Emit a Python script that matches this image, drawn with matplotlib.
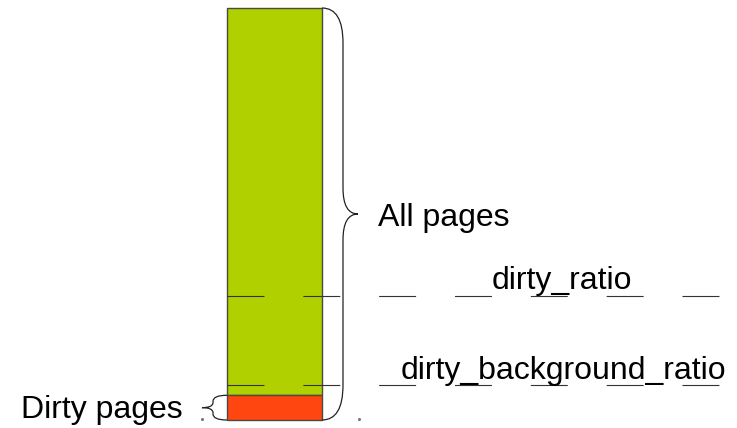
import matplotlib
matplotlib.use('Agg')
import matplotlib.pyplot as plt
from matplotlib.path import Path
from matplotlib.patches import PathPatch

plt.rcParams['font.family'] = ['Liberation Sans', 'DejaVu Sans']
plt.rcParams['lines.scale_dashes'] = False

# share of memory pages (percent of all pages)
all_pages = 100
dirty_pages = 6
dirty_ratio = 30
dirty_background_ratio = 8.5

labels = ['All pages', 'dirty_ratio', 'dirty_background_ratio', 'Dirty pages']

fig = plt.figure(figsize=(7.37, 4.28), dpi=100)
ax = fig.add_axes([0, 0, 1, 1])
ax.axis('off')

k = 4.12  # pixels per percent
ax.set_xlim(0, 737)
ax.set_ylim(-8 / k, all_pages + 8 / k)

bar_x, bar_w = 274.5, 95
left, right = bar_x - bar_w / 2, bar_x + bar_w / 2

ax.bar(bar_x, all_pages - dirty_pages, bottom=dirty_pages, width=bar_w,
       color='#b0d000', edgecolor='#4a4a40', linewidth=1.0, zorder=2)
ax.bar(bar_x, dirty_pages, bottom=0, width=bar_w,
       color='#ff4510', edgecolor='#4a4a40', linewidth=1.0, zorder=2)

# dashed threshold lines
for y in [dirty_ratio, dirty_background_ratio]:
    ax.hlines(y, left, 722, colors='#333333', linewidth=0.8,
              linestyles=(0, (26.6, 28.0)), zorder=3)


def brace(x0, xv, xtip, ytop, ybot, end, tipr):
    ymid = (ytop + ybot) / 2
    e, t = end / k, tipr / k
    verts = [(x0, ytop), (xv, ytop), (xv, ytop - e),
             (xv, ymid + t), (xv, ymid), (xtip, ymid),
             (xv, ymid), (xv, ymid - t),
             (xv, ybot + e), (xv, ybot), (x0, ybot)]
    codes = [Path.MOVETO, Path.CURVE3, Path.CURVE3,
             Path.LINETO, Path.CURVE3, Path.CURVE3,
             Path.CURVE3, Path.CURVE3,
             Path.LINETO, Path.CURVE3, Path.CURVE3]
    ax.add_patch(PathPatch(Path(verts, codes), fill=False,
                           edgecolor='#222222', linewidth=0.9, zorder=4))


brace(right, right + 21, right + 36, all_pages, 0, 35, 26)
brace(left, left - 14, left - 25, dirty_pages, 0, 6, 5)

fs = 23
ax.text(378, all_pages / 2 - 12 / k, labels[0], fontsize=fs, va='baseline', zorder=5)
ax.text(492, dirty_ratio + 7 / k, labels[1], fontsize=fs, va='baseline', zorder=5)
ax.text(401, dirty_background_ratio + 6 / k, labels[2], fontsize=fs, va='baseline', zorder=5)
ax.text(21, 2 / k, labels[3], fontsize=fs, va='baseline', zorder=5)

# small stray dots of the original drawing
ax.plot([202, 359], [0.2, 0.2], 'o', color='#777777', markersize=1.2, zorder=5)

fig.savefig('out.png', dpi=100)
